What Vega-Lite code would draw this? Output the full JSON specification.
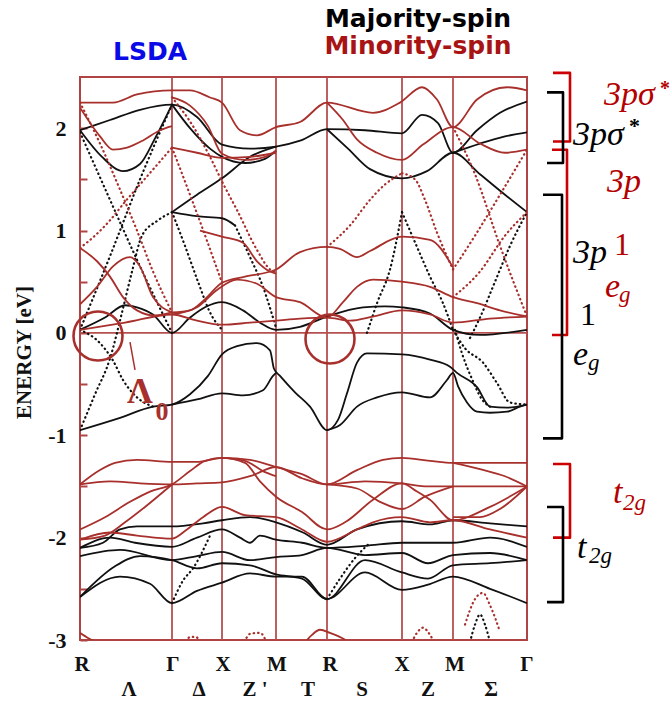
{
  "$schema": "https://vega.github.io/schema/vega-lite/v6.json",
  "width": 447,
  "height": 563,
  "autosize": {"type": "none"},
  "padding": {"left": 80, "top": 77, "right": 143, "bottom": 63},
  "background": "white",
  "config": {"view": {"stroke": "#b04444", "strokeWidth": 2}},
  "datasets": {
    "majSolid": [
      {"band":"M1","k":0,"E":1.98},{"band":"M1","k":30,"E":2.08},{"band":"M1","k":60,"E":2.18},{"band":"M1","k":92,"E":2.23},{"band":"M1","k":117,"E":2.11},{"band":"M1","k":142,"E":1.84},{"band":"M1","k":170,"E":1.80},{"band":"M1","k":196,"E":1.82},{"band":"M1","k":221,"E":1.88},{"band":"M1","k":247,"E":1.99},{"band":"M1","k":285,"E":1.98},{"band":"M1","k":322,"E":1.95},{"band":"M1","k":342,"E":2.13},{"band":"M1","k":358,"E":2.05},{"band":"M1","k":373,"E":1.76},{"band":"M1","k":397,"E":1.98},{"band":"M1","k":420,"E":2.15},{"band":"M1","k":447,"E":2.26},
      {"band":"M2","k":92,"E":1.18},{"band":"M2","k":117,"E":1.35},{"band":"M2","k":142,"E":1.51},{"band":"M2","k":170,"E":1.72},{"band":"M2","k":196,"E":1.82},
      {"band":"M3","k":247,"E":1.99},{"band":"M3","k":268,"E":1.80},{"band":"M3","k":290,"E":1.60},{"band":"M3","k":322,"E":1.51},{"band":"M3","k":347,"E":1.58},{"band":"M3","k":373,"E":1.76},{"band":"M3","k":400,"E":1.55},{"band":"M3","k":425,"E":1.35},{"band":"M3","k":447,"E":1.18},
      {"band":"M4","k":0,"E":1.98},{"band":"M4","k":22,"E":1.72},{"band":"M4","k":43,"E":1.58},{"band":"M4","k":60,"E":1.65},{"band":"M4","k":75,"E":1.90},{"band":"M4","k":92,"E":2.23},
      {"band":"M5","k":92,"E":2.23},{"band":"M5","k":110,"E":2.00},{"band":"M5","k":130,"E":1.80},{"band":"M5","k":142,"E":1.72},{"band":"M5","k":165,"E":1.66},{"band":"M5","k":185,"E":1.70},{"band":"M5","k":196,"E":1.78},
      {"band":"M6","k":92,"E":1.18},{"band":"M6","k":117,"E":1.14},{"band":"M6","k":142,"E":1.12},{"band":"M6","k":155,"E":1.05},
      {"band":"M7","k":0,"E":-0.95},{"band":"M7","k":40,"E":-0.83},{"band":"M7","k":73,"E":-0.72},{"band":"M7","k":92,"E":-0.70},{"band":"M7","k":110,"E":-0.60},{"band":"M7","k":128,"E":-0.42},{"band":"M7","k":142,"E":-0.21},{"band":"M7","k":157,"E":-0.13},{"band":"M7","k":177,"E":-0.10},{"band":"M7","k":190,"E":-0.17},{"band":"M7","k":194,"E":-0.35},{"band":"M7","k":200,"E":-0.42},{"band":"M7","k":215,"E":-0.58},{"band":"M7","k":230,"E":-0.72},{"band":"M7","k":247,"E":-0.95},{"band":"M7","k":258,"E":-0.85},{"band":"M7","k":267,"E":-0.59},{"band":"M7","k":277,"E":-0.29},{"band":"M7","k":287,"E":-0.20},{"band":"M7","k":322,"E":-0.21},{"band":"M7","k":350,"E":-0.26},{"band":"M7","k":370,"E":-0.33},{"band":"M7","k":377,"E":-0.39},{"band":"M7","k":397,"E":-0.53},{"band":"M7","k":410,"E":-0.72},{"band":"M7","k":427,"E":-0.73},{"band":"M7","k":447,"E":-0.70},
      {"band":"M8","k":92,"E":-0.70},{"band":"M8","k":117,"E":-0.65},{"band":"M8","k":142,"E":-0.59},{"band":"M8","k":163,"E":-0.61},{"band":"M8","k":183,"E":-0.56},{"band":"M8","k":193,"E":-0.42},{"band":"M8","k":196,"E":-0.39},
      {"band":"M9","k":247,"E":-0.95},{"band":"M9","k":260,"E":-0.90},{"band":"M9","k":277,"E":-0.72},{"band":"M9","k":297,"E":-0.63},{"band":"M9","k":322,"E":-0.58},{"band":"M9","k":350,"E":-0.63},{"band":"M9","k":367,"E":-0.46},{"band":"M9","k":373,"E":-0.39},{"band":"M9","k":378,"E":-0.52},{"band":"M9","k":387,"E":-0.68},{"band":"M9","k":397,"E":-0.77},{"band":"M9","k":410,"E":-0.78},{"band":"M9","k":427,"E":-0.77},{"band":"M9","k":440,"E":-0.72},{"band":"M9","k":447,"E":-0.70},
      {"band":"M10","k":0,"E":0.03},{"band":"M10","k":25,"E":0.15},{"band":"M10","k":45,"E":0.27},{"band":"M10","k":57,"E":0.25},{"band":"M10","k":73,"E":0.18},{"band":"M10","k":92,"E":0.0},{"band":"M10","k":110,"E":0.15},{"band":"M10","k":125,"E":0.25},{"band":"M10","k":142,"E":0.30},{"band":"M10","k":163,"E":0.22},{"band":"M10","k":180,"E":0.10},{"band":"M10","k":196,"E":0.03},{"band":"M10","k":220,"E":0.06},{"band":"M10","k":247,"E":0.16},{"band":"M10","k":283,"E":0.25},{"band":"M10","k":305,"E":0.26},{"band":"M10","k":322,"E":0.25},{"band":"M10","k":350,"E":0.19},{"band":"M10","k":373,"E":0.03},{"band":"M10","k":400,"E":-0.02},{"band":"M10","k":447,"E":0.03},
      {"band":"M11","k":0,"E":-2.10},{"band":"M11","k":23,"E":-2.05},{"band":"M11","k":40,"E":-1.92},{"band":"M11","k":57,"E":-1.89},{"band":"M11","k":92,"E":-1.89},{"band":"M11","k":123,"E":-1.86},{"band":"M11","k":142,"E":-1.83},{"band":"M11","k":170,"E":-1.80},{"band":"M11","k":196,"E":-1.85},{"band":"M11","k":223,"E":-1.95},{"band":"M11","k":247,"E":-2.07},{"band":"M11","k":277,"E":-1.92},{"band":"M11","k":322,"E":-1.84},{"band":"M11","k":350,"E":-1.87},{"band":"M11","k":373,"E":-1.83},{"band":"M11","k":410,"E":-1.86},{"band":"M11","k":447,"E":-1.89},
      {"band":"M12","k":0,"E":-2.10},{"band":"M12","k":30,"E":-2.00},{"band":"M12","k":55,"E":-2.05},{"band":"M12","k":92,"E":-2.09},{"band":"M12","k":117,"E":-2.00},{"band":"M12","k":142,"E":-1.92},{"band":"M12","k":160,"E":-2.00},{"band":"M12","k":170,"E":-2.05},{"band":"M12","k":180,"E":-1.98},{"band":"M12","k":196,"E":-2.02},{"band":"M12","k":222,"E":-2.05},{"band":"M12","k":247,"E":-2.10},{"band":"M12","k":285,"E":-2.08},{"band":"M12","k":322,"E":-2.05},{"band":"M12","k":348,"E":-2.05},{"band":"M12","k":373,"E":-2.05},{"band":"M12","k":410,"E":-2.00},{"band":"M12","k":447,"E":-2.09},
      {"band":"M13","k":0,"E":-2.18},{"band":"M13","k":40,"E":-2.12},{"band":"M13","k":92,"E":-2.22},{"band":"M13","k":117,"E":-2.18},{"band":"M13","k":142,"E":-2.14},{"band":"M13","k":170,"E":-2.22},{"band":"M13","k":196,"E":-2.19},{"band":"M13","k":222,"E":-2.17},{"band":"M13","k":247,"E":-2.10},{"band":"M13","k":285,"E":-2.17},{"band":"M13","k":322,"E":-2.15},{"band":"M13","k":348,"E":-2.25},{"band":"M13","k":373,"E":-2.17},{"band":"M13","k":410,"E":-2.15},{"band":"M13","k":447,"E":-2.22},
      {"band":"M14","k":0,"E":-2.58},{"band":"M14","k":35,"E":-2.28},{"band":"M14","k":60,"E":-2.18},{"band":"M14","k":92,"E":-2.22},{"band":"M14","k":117,"E":-2.30},{"band":"M14","k":142,"E":-2.25},{"band":"M14","k":170,"E":-2.27},{"band":"M14","k":196,"E":-2.36},{"band":"M14","k":222,"E":-2.40},{"band":"M14","k":247,"E":-2.60},{"band":"M14","k":285,"E":-2.22},{"band":"M14","k":322,"E":-2.34},{"band":"M14","k":348,"E":-2.40},{"band":"M14","k":373,"E":-2.27},{"band":"M14","k":410,"E":-2.25},{"band":"M14","k":447,"E":-2.22},
      {"band":"M15","k":0,"E":-2.58},{"band":"M15","k":40,"E":-2.38},{"band":"M15","k":70,"E":-2.45},{"band":"M15","k":92,"E":-2.64},{"band":"M15","k":117,"E":-2.52},{"band":"M15","k":142,"E":-2.44},{"band":"M15","k":170,"E":-2.35},{"band":"M15","k":196,"E":-2.38},{"band":"M15","k":222,"E":-2.38},{"band":"M15","k":247,"E":-2.60},{"band":"M15","k":285,"E":-2.34},{"band":"M15","k":322,"E":-2.51},{"band":"M15","k":348,"E":-2.46},{"band":"M15","k":373,"E":-2.38},{"band":"M15","k":410,"E":-2.50},{"band":"M15","k":447,"E":-2.64},
      {"band":"M16","k":373,"E":1.76},{"band":"M16","k":400,"E":1.85},{"band":"M16","k":425,"E":1.92},{"band":"M16","k":447,"E":1.96}
    ],
    "majDot": [
      {"band":"D1","k":0,"E":1.96},{"band":"D1","k":30,"E":1.30},{"band":"D1","k":60,"E":0.65},{"band":"D1","k":92,"E":0.0},
      {"band":"D2","k":0,"E":0.03},{"band":"D2","k":30,"E":0.75},{"band":"D2","k":60,"E":1.50},{"band":"D2","k":92,"E":2.23},
      {"band":"D3","k":0,"E":-0.95},{"band":"D3","k":15,"E":-0.60},{"band":"D3","k":30,"E":-0.25},{"band":"D3","k":42,"E":0.20},{"band":"D3","k":52,"E":0.60},{"band":"D3","k":62,"E":0.95},{"band":"D3","k":78,"E":1.10},{"band":"D3","k":92,"E":1.18},
      {"band":"D4","k":0,"E":0.03},{"band":"D4","k":20,"E":-0.10},{"band":"D4","k":33,"E":-0.27},{"band":"D4","k":43,"E":-0.46},{"band":"D4","k":57,"E":-0.63},{"band":"D4","k":73,"E":-0.72},
      {"band":"D5","k":92,"E":1.18},{"band":"D5","k":105,"E":0.85},{"band":"D5","k":118,"E":0.50},{"band":"D5","k":130,"E":0.20},{"band":"D5","k":142,"E":0.03},
      {"band":"D6","k":155,"E":1.05},{"band":"D6","k":170,"E":0.74},{"band":"D6","k":183,"E":0.45},{"band":"D6","k":196,"E":0.05},
      {"band":"D7","k":287,"E":0.0},{"band":"D7","k":297,"E":0.29},{"band":"D7","k":310,"E":0.62},{"band":"D7","k":322,"E":1.18},
      {"band":"D8","k":322,"E":1.18},{"band":"D8","k":337,"E":0.84},{"band":"D8","k":350,"E":0.55},{"band":"D8","k":363,"E":0.29},{"band":"D8","k":373,"E":0.03},
      {"band":"D9","k":373,"E":0.03},{"band":"D9","k":385,"E":-0.15},{"band":"D9","k":403,"E":-0.29},{"band":"D9","k":417,"E":-0.49},{"band":"D9","k":430,"E":-0.68},{"band":"D9","k":447,"E":-0.70},
      {"band":"D10","k":390,"E":-0.05},{"band":"D10","k":400,"E":0.15},{"band":"D10","k":415,"E":0.50},{"band":"D10","k":430,"E":0.85},{"band":"D10","k":447,"E":1.18},
      {"band":"D11","k":92,"E":-2.64},{"band":"D11","k":103,"E":-2.42},{"band":"D11","k":113,"E":-2.30},{"band":"D11","k":130,"E":-1.98},
      {"band":"D12","k":247,"E":-2.60},{"band":"D12","k":260,"E":-2.40},{"band":"D12","k":275,"E":-2.20},{"band":"D12","k":290,"E":-2.05},
      {"band":"D13","k":390,"E":-3.02},{"band":"D13","k":395,"E":-2.85},{"band":"D13","k":400,"E":-2.75},{"band":"D13","k":405,"E":-2.85},{"band":"D13","k":410,"E":-3.02},
      {"band":"D14","k":375,"E":0.03},{"band":"D14","k":382,"E":-0.20},{"band":"D14","k":392,"E":-0.45},{"band":"D14","k":402,"E":-0.65},{"band":"D14","k":410,"E":-0.72}
    ],
    "minSolid": [
      {"band":"N1","k":0,"E":2.25},{"band":"N1","k":33,"E":2.25},{"band":"N1","k":57,"E":2.33},{"band":"N1","k":92,"E":2.37},{"band":"N1","k":110,"E":2.37},{"band":"N1","k":130,"E":2.30},{"band":"N1","k":142,"E":2.25},{"band":"N1","k":160,"E":1.98},{"band":"N1","k":177,"E":1.93},{"band":"N1","k":196,"E":2.01},{"band":"N1","k":220,"E":2.06},{"band":"N1","k":247,"E":2.25},{"band":"N1","k":293,"E":2.15},{"band":"N1","k":320,"E":2.25},{"band":"N1","k":342,"E":2.40},{"band":"N1","k":357,"E":2.28},{"band":"N1","k":373,"E":2.01},{"band":"N1","k":397,"E":2.28},{"band":"N1","k":427,"E":2.40},{"band":"N1","k":447,"E":2.37},
      {"band":"N2","k":92,"E":2.30},{"band":"N2","k":110,"E":2.22},{"band":"N2","k":128,"E":2.02},{"band":"N2","k":142,"E":1.75},{"band":"N2","k":165,"E":1.69},{"band":"N2","k":185,"E":1.72},{"band":"N2","k":196,"E":1.78},
      {"band":"N3","k":247,"E":2.25},{"band":"N3","k":263,"E":2.08},{"band":"N3","k":277,"E":1.89},{"band":"N3","k":297,"E":1.76},{"band":"N3","k":322,"E":1.69},{"band":"N3","k":343,"E":1.84},{"band":"N3","k":373,"E":2.01},{"band":"N3","k":400,"E":1.85},{"band":"N3","k":425,"E":1.76},{"band":"N3","k":447,"E":1.79},
      {"band":"N4","k":92,"E":1.81},{"band":"N4","k":117,"E":1.76},{"band":"N4","k":142,"E":1.71},{"band":"N4","k":170,"E":1.72},{"band":"N4","k":196,"E":1.76},
      {"band":"N5","k":0,"E":0.83},{"band":"N5","k":17,"E":0.70},{"band":"N5","k":30,"E":0.55},{"band":"N5","k":43,"E":0.35},{"band":"N5","k":57,"E":0.22},{"band":"N5","k":75,"E":0.17},{"band":"N5","k":92,"E":0.20},
      {"band":"N6","k":0,"E":0.28},{"band":"N6","k":17,"E":0.45},{"band":"N6","k":33,"E":0.65},{"band":"N6","k":50,"E":0.74},{"band":"N6","k":60,"E":0.65},{"band":"N6","k":73,"E":0.35},{"band":"N6","k":92,"E":0.20},
      {"band":"N7","k":92,"E":0.20},{"band":"N7","k":110,"E":0.22},{"band":"N7","k":125,"E":0.33},{"band":"N7","k":142,"E":0.49},{"band":"N7","k":165,"E":0.55},{"band":"N7","k":196,"E":0.62},{"band":"N7","k":220,"E":0.79},{"band":"N7","k":247,"E":0.84},{"band":"N7","k":260,"E":0.82},{"band":"N7","k":277,"E":0.74},{"band":"N7","k":290,"E":0.80},{"band":"N7","k":322,"E":0.94},{"band":"N7","k":350,"E":0.91},{"band":"N7","k":373,"E":0.64},
      {"band":"N8","k":92,"E":0.18},{"band":"N8","k":117,"E":0.25},{"band":"N8","k":137,"E":0.42},{"band":"N8","k":157,"E":0.52},{"band":"N8","k":177,"E":0.48},{"band":"N8","k":196,"E":0.35},{"band":"N8","k":220,"E":0.30},{"band":"N8","k":247,"E":0.15},{"band":"N8","k":263,"E":0.30},{"band":"N8","k":277,"E":0.45},{"band":"N8","k":293,"E":0.52},{"band":"N8","k":322,"E":0.50},{"band":"N8","k":350,"E":0.45},{"band":"N8","k":373,"E":0.35},{"band":"N8","k":397,"E":0.29},{"band":"N8","k":420,"E":0.22},{"band":"N8","k":447,"E":0.16},
      {"band":"N9","k":0,"E":0.03},{"band":"N9","k":45,"E":0.10},{"band":"N9","k":92,"E":0.18},{"band":"N9","k":117,"E":0.12},{"band":"N9","k":142,"E":0.08},{"band":"N9","k":170,"E":0.10},{"band":"N9","k":196,"E":0.12},{"band":"N9","k":220,"E":0.14},{"band":"N9","k":247,"E":0.15},{"band":"N9","k":270,"E":0.12},{"band":"N9","k":293,"E":0.16},{"band":"N9","k":322,"E":0.22},{"band":"N9","k":350,"E":0.18},{"band":"N9","k":373,"E":0.10},{"band":"N9","k":410,"E":0.14},{"band":"N9","k":447,"E":0.16},
      {"band":"N10","k":120,"E":1.00},{"band":"N10","k":142,"E":0.94},{"band":"N10","k":163,"E":0.88},{"band":"N10","k":177,"E":0.70},{"band":"N10","k":190,"E":0.60},{"band":"N10","k":196,"E":0.58},
      {"band":"N11","k":0,"E":2.20},{"band":"N11","k":20,"E":1.92},{"band":"N11","k":33,"E":1.79},{"band":"N11","k":47,"E":1.81},{"band":"N11","k":63,"E":1.88},{"band":"N11","k":80,"E":1.98},{"band":"N11","k":92,"E":2.02},
      {"band":"N12","k":0,"E":-1.48},{"band":"N12","k":20,"E":-1.34},{"band":"N12","k":35,"E":-1.27},{"band":"N12","k":57,"E":-1.24},{"band":"N12","k":92,"E":-1.26},{"band":"N12","k":117,"E":-1.26},{"band":"N12","k":142,"E":-1.22},{"band":"N12","k":170,"E":-1.24},{"band":"N12","k":196,"E":-1.31},{"band":"N12","k":222,"E":-1.38},{"band":"N12","k":247,"E":-1.48},{"band":"N12","k":277,"E":-1.34},{"band":"N12","k":303,"E":-1.24},{"band":"N12","k":322,"E":-1.22},{"band":"N12","k":350,"E":-1.25},{"band":"N12","k":373,"E":-1.27},{"band":"N12","k":410,"E":-1.27},{"band":"N12","k":447,"E":-1.27},
      {"band":"N13","k":0,"E":-1.48},{"band":"N13","k":30,"E":-1.45},{"band":"N13","k":60,"E":-1.47},{"band":"N13","k":92,"E":-1.48},{"band":"N13","k":117,"E":-1.47},{"band":"N13","k":142,"E":-1.46},{"band":"N13","k":170,"E":-1.40},{"band":"N13","k":196,"E":-1.31},{"band":"N13","k":222,"E":-1.42},{"band":"N13","k":247,"E":-1.48},{"band":"N13","k":285,"E":-1.45},{"band":"N13","k":322,"E":-1.47},{"band":"N13","k":348,"E":-1.50},{"band":"N13","k":373,"E":-1.50},{"band":"N13","k":410,"E":-1.50},{"band":"N13","k":447,"E":-1.50},
      {"band":"N14","k":0,"E":-1.92},{"band":"N14","k":25,"E":-1.80},{"band":"N14","k":50,"E":-1.65},{"band":"N14","k":70,"E":-1.55},{"band":"N14","k":92,"E":-1.48},{"band":"N14","k":110,"E":-1.35},{"band":"N14","k":125,"E":-1.25},{"band":"N14","k":142,"E":-1.22},{"band":"N14","k":165,"E":-1.27},{"band":"N14","k":180,"E":-1.45},{"band":"N14","k":196,"E":-1.60},{"band":"N14","k":222,"E":-1.75},{"band":"N14","k":247,"E":-1.92},{"band":"N14","k":265,"E":-1.85},{"band":"N14","k":293,"E":-1.63},{"band":"N14","k":322,"E":-1.47},{"band":"N14","k":337,"E":-1.55},{"band":"N14","k":350,"E":-1.63},{"band":"N14","k":373,"E":-1.83},{"band":"N14","k":410,"E":-1.70},{"band":"N14","k":447,"E":-1.50},
      {"band":"N15","k":0,"E":-2.02},{"band":"N15","k":30,"E":-1.95},{"band":"N15","k":57,"E":-1.98},{"band":"N15","k":92,"E":-2.01},{"band":"N15","k":107,"E":-1.92},{"band":"N15","k":123,"E":-1.80},{"band":"N15","k":142,"E":-1.70},{"band":"N15","k":165,"E":-1.78},{"band":"N15","k":196,"E":-1.80},{"band":"N15","k":222,"E":-1.92},{"band":"N15","k":247,"E":-2.04},{"band":"N15","k":277,"E":-1.92},{"band":"N15","k":293,"E":-1.85},{"band":"N15","k":322,"E":-1.80},{"band":"N15","k":350,"E":-1.85},{"band":"N15","k":373,"E":-1.83},{"band":"N15","k":410,"E":-1.92},{"band":"N15","k":447,"E":-2.00},
      {"band":"N16","k":247,"E":-1.48},{"band":"N16","k":277,"E":-1.52},{"band":"N16","k":300,"E":-1.65},{"band":"N16","k":322,"E":-1.72},{"band":"N16","k":345,"E":-1.60},{"band":"N16","k":373,"E":-1.50},
      {"band":"N17","k":373,"E":-1.80},{"band":"N17","k":400,"E":-1.80},{"band":"N17","k":420,"E":-1.72},{"band":"N17","k":447,"E":-1.50},
      {"band":"N18","k":373,"E":-1.27},{"band":"N18","k":400,"E":-1.33},{"band":"N18","k":425,"E":-1.40},{"band":"N18","k":447,"E":-1.50},
      {"band":"N19","k":0,"E":-2.02},{"band":"N19","k":25,"E":-1.98},{"band":"N19","k":45,"E":-1.85},{"band":"N19","k":65,"E":-1.70},{"band":"N19","k":92,"E":-1.48},
      {"band":"N20","k":142,"E":-1.22},{"band":"N20","k":165,"E":-1.25},{"band":"N20","k":185,"E":-1.36},{"band":"N20","k":196,"E":-1.40},
      {"band":"N21","k":0,"E":-2.93},{"band":"N21","k":8,"E":-2.98},{"band":"N21","k":20,"E":-3.02},{"band":"N21","k":43,"E":-3.01},{"band":"N21","k":50,"E":-3.06},
      {"band":"N22","k":222,"E":-3.06},{"band":"N22","k":232,"E":-2.95},{"band":"N22","k":240,"E":-2.90},{"band":"N22","k":250,"E":-2.93},{"band":"N22","k":262,"E":-2.98},{"band":"N22","k":275,"E":-3.06}
    ],
    "minDot": [
      {"band":"P1","k":0,"E":0.83},{"band":"P1","k":15,"E":0.95},{"band":"P1","k":30,"E":1.10},{"band":"P1","k":45,"E":1.28},{"band":"P1","k":60,"E":1.45},{"band":"P1","k":76,"E":1.63},{"band":"P1","k":92,"E":1.81},
      {"band":"P2","k":0,"E":2.25},{"band":"P2","k":20,"E":1.85},{"band":"P2","k":40,"E":1.40},{"band":"P2","k":57,"E":1.00},{"band":"P2","k":73,"E":0.60},{"band":"P2","k":92,"E":0.20},
      {"band":"P3","k":92,"E":2.30},{"band":"P3","k":113,"E":2.02},{"band":"P3","k":130,"E":1.72},{"band":"P3","k":143,"E":1.46},{"band":"P3","k":157,"E":1.20},{"band":"P3","k":177,"E":0.81},{"band":"P3","k":190,"E":0.62},{"band":"P3","k":196,"E":0.59},
      {"band":"P4","k":247,"E":0.84},{"band":"P4","k":270,"E":1.05},{"band":"P4","k":290,"E":1.30},{"band":"P4","k":305,"E":1.45},{"band":"P4","k":322,"E":1.56},
      {"band":"P5","k":322,"E":1.56},{"band":"P5","k":335,"E":1.50},{"band":"P5","k":345,"E":1.30},{"band":"P5","k":357,"E":0.98},{"band":"P5","k":373,"E":0.62},
      {"band":"P6","k":373,"E":0.62},{"band":"P6","k":395,"E":0.95},{"band":"P6","k":420,"E":1.35},{"band":"P6","k":447,"E":1.79},
      {"band":"P7","k":373,"E":2.01},{"band":"P7","k":395,"E":1.55},{"band":"P7","k":420,"E":0.85},{"band":"P7","k":447,"E":0.16},
      {"band":"P8","k":373,"E":0.35},{"band":"P8","k":400,"E":0.60},{"band":"P8","k":425,"E":0.95},{"band":"P8","k":447,"E":1.18},
      {"band":"P9","k":92,"E":1.81},{"band":"P9","k":110,"E":1.35},{"band":"P9","k":127,"E":0.90},{"band":"P9","k":142,"E":0.49},
      {"band":"P10","k":105,"E":-3.06},{"band":"P10","k":110,"E":-2.97},{"band":"P10","k":116,"E":-2.97},{"band":"P10","k":121,"E":-3.06},
      {"band":"P11","k":163,"E":-3.06},{"band":"P11","k":170,"E":-2.94},{"band":"P11","k":180,"E":-2.93},{"band":"P11","k":188,"E":-3.06},
      {"band":"P12","k":330,"E":-3.06},{"band":"P12","k":337,"E":-2.93},{"band":"P12","k":343,"E":-2.88},{"band":"P12","k":350,"E":-2.95},{"band":"P12","k":356,"E":-3.06},
      {"band":"P13","k":385,"E":-2.85},{"band":"P13","k":395,"E":-2.60},{"band":"P13","k":403,"E":-2.54},{"band":"P13","k":410,"E":-2.66},{"band":"P13","k":420,"E":-2.92}
    ]
  },
  "encoding": {
    "x": {"field": "k", "type": "quantitative", "scale": {"domain": [0, 447], "nice": false, "zero": false}, "axis": null},
    "y": {
      "field": "E", "type": "quantitative",
      "scale": {"domain": [-3, 2.5], "nice": false, "zero": false},
      "axis": {
        "values": [-3, -2.5, -2, -1.5, -1, -0.5, 0, 0.5, 1, 1.5, 2],
        "labelExpr": "datum.value % 1 == 0 ? (datum.value < 0 ? '-' + abs(datum.value) : '' + datum.value) : ''",
        "domain": false, "grid": false,
        "tickColor": "#b04444", "tickSize": -7, "tickWidth": 2,
        "labelFont": "Liberation Serif", "labelFontWeight": "bold", "labelFontSize": 22, "labelColor": "#111111",
        "labelPadding": 21, "labelFlush": false, "labelOverlap": false,
        "title": "ENERGY [eV]", "titleFont": "Liberation Serif", "titleFontWeight": "bold", "titleFontSize": 21,
        "titleColor": "#111111", "titleX": -56, "titleY": 275, "titleAngle": -90, "titleAlign": "center", "titleBaseline": "middle"
      }
    }
  },
  "layer": [
    {
      "data": {"values": [
        {"line": "G", "k": 92, "E": -3}, {"line": "G", "k": 92, "E": 2.5},
        {"line": "X", "k": 142, "E": -3}, {"line": "X", "k": 142, "E": 2.5},
        {"line": "M", "k": 196, "E": -3}, {"line": "M", "k": 196, "E": 2.5},
        {"line": "R", "k": 247, "E": -3}, {"line": "R", "k": 247, "E": 2.5},
        {"line": "X2", "k": 322, "E": -3}, {"line": "X2", "k": 322, "E": 2.5},
        {"line": "M2", "k": 373, "E": -3}, {"line": "M2", "k": 373, "E": 2.5}
      ]},
      "mark": {"type": "line", "color": "#b55050", "strokeWidth": 1.8},
      "encoding": {"detail": {"field": "line"}}
    },
    {
      "data": {"values": [{"k": 0, "E": 0}, {"k": 447, "E": 0}]},
      "mark": {"type": "line", "color": "#b55050", "strokeWidth": 1.6},
      "encoding": {}
    },
    {
      "data": {"name": "majSolid"},
      "mark": {"type": "line", "color": "#111111", "strokeWidth": 1.8, "interpolate": "monotone", "clip": true},
      "encoding": {"detail": {"field": "band"}}
    },
    {
      "data": {"name": "majDot"},
      "mark": {"type": "line", "color": "#111111", "strokeWidth": 2.2, "strokeDash": [0.5, 4], "strokeCap": "round", "interpolate": "monotone", "clip": true},
      "encoding": {"detail": {"field": "band"}}
    },
    {
      "data": {"name": "minSolid"},
      "mark": {"type": "line", "color": "#a8302c", "strokeWidth": 1.8, "interpolate": "monotone", "clip": true},
      "encoding": {"detail": {"field": "band"}}
    },
    {
      "data": {"name": "minDot"},
      "mark": {"type": "line", "color": "#a8302c", "strokeWidth": 2.2, "strokeDash": [0.5, 4], "strokeCap": "round", "interpolate": "monotone", "clip": true},
      "encoding": {"detail": {"field": "band"}}
    },
    {
      "data": {"values": [{"k": 18, "E": -0.03}, {"k": 250, "E": -0.06}]},
      "mark": {"type": "point", "shape": "circle", "filled": false, "size": 2400, "strokeWidth": 2.6, "color": "#a8302c", "opacity": 1}
    },
    {
      "data": {"values": [{"k": 50, "E": -0.09}, {"k": 55, "E": -0.36}]},
      "mark": {"type": "line", "color": "#a8302c", "strokeWidth": 1.5},
      "encoding": {}
    },
    {
      "data": {"values": [{"k": 60, "E": -0.68, "t": "Λ"}]},
      "mark": {"type": "text", "font": "Liberation Serif", "fontWeight": "bold", "fontSize": 36, "color": "#a8302c", "align": "center", "baseline": "alphabetic"},
      "encoding": {"text": {"field": "t"}}
    },
    {
      "data": {"values": [{"k": 82, "E": -0.85, "t": "0"}]},
      "mark": {"type": "text", "font": "Liberation Serif", "fontWeight": "bold", "fontSize": 26, "color": "#a8302c", "align": "center", "baseline": "alphabetic"},
      "encoding": {"text": {"field": "t"}}
    },
    {
      "data": {"values": [
        {"name": "R", "k": 2, "E": -3.3}, {"name": "Γ", "k": 93, "E": -3.3}, {"name": "X", "k": 143, "E": -3.3}, {"name": "M", "k": 197, "E": -3.3},
        {"name": "R", "k": 250, "E": -3.3}, {"name": "X", "k": 322, "E": -3.3}, {"name": "M", "k": 375, "E": -3.3}, {"name": "Γ", "k": 447, "E": -3.3},
        {"name": "Λ", "k": 49, "E": -3.55}, {"name": "Δ", "k": 119, "E": -3.55}, {"name": "Z '", "k": 175, "E": -3.55}, {"name": "T", "k": 228, "E": -3.55},
        {"name": "S", "k": 282, "E": -3.55}, {"name": "Z", "k": 348, "E": -3.55}, {"name": "Σ", "k": 411, "E": -3.55}
      ]},
      "mark": {"type": "text", "font": "Liberation Serif", "fontWeight": "bold", "fontSize": 21, "color": "#111111", "align": "center", "baseline": "alphabetic"},
      "encoding": {"text": {"field": "name"}}
    },
    {
      "data": {"values": [{"t": "LSDA", "k": 70, "E": 2.67}]},
      "mark": {"type": "text", "font": "DejaVu Sans", "fontWeight": "bold", "fontSize": 25, "color": "#0a0ae6", "align": "center", "baseline": "alphabetic"},
      "encoding": {"text": {"field": "t"}}
    },
    {
      "data": {"values": [{"t": "Majority-spin", "k": 338, "E": 2.99}]},
      "mark": {"type": "text", "font": "DejaVu Sans", "fontWeight": "bold", "fontSize": 25, "color": "#000000", "align": "center", "baseline": "alphabetic"},
      "encoding": {"text": {"field": "t"}}
    },
    {
      "data": {"values": [{"t": "Minority-spin", "k": 338, "E": 2.72}]},
      "mark": {"type": "text", "font": "DejaVu Sans", "fontWeight": "bold", "fontSize": 25, "color": "#a81414", "align": "center", "baseline": "alphabetic"},
      "encoding": {"text": {"field": "t"}}
    },
    {
      "data": {"values": [
        {"br": "a", "i": 0, "k": 473, "E": 2.54}, {"br": "a", "i": 1, "k": 490, "E": 2.54}, {"br": "a", "i": 2, "k": 490, "E": 1.87}, {"br": "a", "i": 3, "k": 473, "E": 1.87},
        {"br": "b", "i": 0, "k": 472, "E": 1.79}, {"br": "b", "i": 1, "k": 487, "E": 1.79}, {"br": "b", "i": 2, "k": 487, "E": -0.02}, {"br": "b", "i": 3, "k": 472, "E": -0.02},
        {"br": "c", "i": 0, "k": 473, "E": -1.28}, {"br": "c", "i": 1, "k": 490, "E": -1.28}, {"br": "c", "i": 2, "k": 490, "E": -2.0}, {"br": "c", "i": 3, "k": 473, "E": -2.0}
      ]},
      "mark": {"type": "line", "color": "#cc0000", "strokeWidth": 2.6, "strokeJoin": "round"},
      "encoding": {"detail": {"field": "br"}, "order": {"field": "i"}}
    },
    {
      "data": {"values": [
        {"br": "a", "i": 0, "k": 467, "E": 2.35}, {"br": "a", "i": 1, "k": 483, "E": 2.35}, {"br": "a", "i": 2, "k": 483, "E": 1.66}, {"br": "a", "i": 3, "k": 467, "E": 1.66},
        {"br": "b", "i": 0, "k": 463, "E": 1.35}, {"br": "b", "i": 1, "k": 482, "E": 1.35}, {"br": "b", "i": 2, "k": 482, "E": -1.03}, {"br": "b", "i": 3, "k": 463, "E": -1.03},
        {"br": "c", "i": 0, "k": 467, "E": -1.70}, {"br": "c", "i": 1, "k": 483, "E": -1.70}, {"br": "c", "i": 2, "k": 483, "E": -2.63}, {"br": "c", "i": 3, "k": 467, "E": -2.63}
      ]},
      "mark": {"type": "line", "color": "#000000", "strokeWidth": 2.6, "strokeJoin": "round"},
      "encoding": {"detail": {"field": "br"}, "order": {"field": "i"}}
    },
    {
      "data": {"values": [{"t": "3pσ", "k": 524, "E": 2.23}, {"t": "3p", "k": 527, "E": 1.38}]},
      "mark": {"type": "text", "font": "Liberation Serif", "fontStyle": "italic", "fontSize": 34, "color": "#b30000", "align": "left", "baseline": "alphabetic"},
      "encoding": {"text": {"field": "t"}}
    },
    {
      "data": {"values": [{"t": "3pσ", "k": 493, "E": 1.84}, {"t": "3p", "k": 493, "E": 0.68}]},
      "mark": {"type": "text", "font": "Liberation Serif", "fontStyle": "italic", "fontSize": 34, "color": "#000000", "align": "left", "baseline": "alphabetic"},
      "encoding": {"text": {"field": "t"}}
    },
    {
      "data": {"values": [{"t": "*", "k": 580, "E": 2.32}]},
      "mark": {"type": "text", "font": "Liberation Serif", "fontWeight": "bold", "fontSize": 20, "color": "#b30000", "align": "left", "baseline": "alphabetic"},
      "encoding": {"text": {"field": "t"}}
    },
    {
      "data": {"values": [{"t": "*", "k": 549, "E": 1.95}]},
      "mark": {"type": "text", "font": "Liberation Serif", "fontWeight": "bold", "fontSize": 22, "color": "#000000", "align": "left", "baseline": "alphabetic"},
      "encoding": {"text": {"field": "t"}}
    },
    {
      "data": {"values": [{"t": "1", "k": 534, "E": 0.76}]},
      "mark": {"type": "text", "font": "Liberation Serif", "fontSize": 32, "color": "#b30000", "align": "left", "baseline": "alphabetic"},
      "encoding": {"text": {"field": "t"}}
    },
    {
      "data": {"values": [{"t": "1", "k": 500, "E": 0.08}]},
      "mark": {"type": "text", "font": "Liberation Serif", "fontSize": 32, "color": "#000000", "align": "left", "baseline": "alphabetic"},
      "encoding": {"text": {"field": "t"}}
    },
    {
      "data": {"values": [{"t": "e", "k": 525, "E": 0.35}, {"t": "t", "k": 533, "E": -1.66}]},
      "mark": {"type": "text", "font": "Liberation Serif", "fontStyle": "italic", "fontSize": 34, "color": "#b30000", "align": "left", "baseline": "alphabetic"},
      "encoding": {"text": {"field": "t"}}
    },
    {
      "data": {"values": [{"t": "e", "k": 493, "E": -0.31}, {"t": "t", "k": 497, "E": -2.20}]},
      "mark": {"type": "text", "font": "Liberation Serif", "fontStyle": "italic", "fontSize": 34, "color": "#000000", "align": "left", "baseline": "alphabetic"},
      "encoding": {"text": {"field": "t"}}
    },
    {
      "data": {"values": [{"t": "g", "k": 539, "E": 0.30}, {"t": "2g", "k": 543, "E": -1.73}]},
      "mark": {"type": "text", "font": "Liberation Serif", "fontStyle": "italic", "fontSize": 23, "color": "#b30000", "align": "left", "baseline": "alphabetic"},
      "encoding": {"text": {"field": "t"}}
    },
    {
      "data": {"values": [{"t": "g", "k": 508, "E": -0.36}, {"t": "2g", "k": 509, "E": -2.25}]},
      "mark": {"type": "text", "font": "Liberation Serif", "fontStyle": "italic", "fontSize": 23, "color": "#000000", "align": "left", "baseline": "alphabetic"},
      "encoding": {"text": {"field": "t"}}
    }
  ]
}
